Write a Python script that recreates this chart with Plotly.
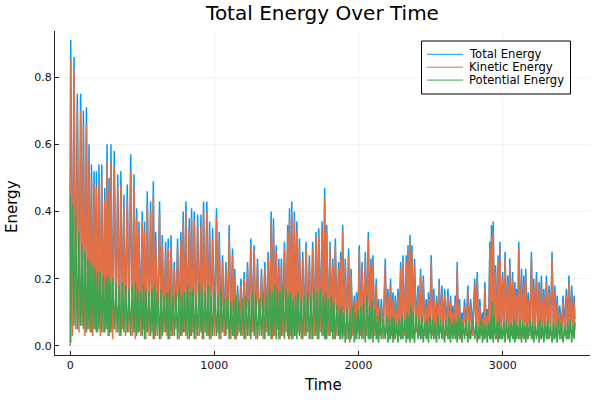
import plotly.graph_objects as go

# Times of the oscillation peaks (kinetic maxima)
peak_t = [
    4, 27, 50, 73, 92, 113, 131, 148, 166, 182,
    200, 219, 240, 256, 270, 283, 306, 330, 352, 373,
    396, 420, 443, 461, 477, 500, 516, 535, 558, 577,
    593, 620, 639, 662, 680, 700, 722, 745, 768, 784,
    803, 826, 842, 861, 884, 907, 925, 948, 967, 988,
    1015, 1034, 1057, 1080, 1103, 1126, 1142, 1161, 1184, 1207,
    1230, 1253, 1276, 1299, 1327, 1350, 1373, 1394, 1410, 1429,
    1447, 1465, 1486, 1509, 1521, 1537, 1555, 1572, 1590, 1613,
    1636, 1659, 1682, 1705, 1724, 1747, 1765, 1779, 1802, 1821,
    1839, 1862, 1876, 1890, 1908, 1931, 1948, 1971, 1987, 2005,
    2024, 2047, 2068, 2086, 2100, 2123, 2139, 2158, 2185, 2204,
    2222, 2239, 2255, 2274, 2292, 2308, 2331, 2343, 2357, 2370,
    2388, 2412, 2430, 2449, 2469, 2485, 2504, 2522, 2541, 2559,
    2578, 2597, 2620, 2638, 2654, 2670, 2684, 2700, 2717, 2735,
    2758, 2777, 2806, 2823, 2841, 2860, 2876, 2892, 2911, 2922,
    2934, 2950, 2968, 2980, 2999, 3016, 3035, 3049, 3068, 3084,
    3096, 3111, 3130, 3146, 3160, 3176, 3199, 3215, 3234, 3252,
    3268, 3285, 3303, 3321, 3342, 3361, 3377, 3395, 3418, 3441,
    3459, 3478, 3495,
]

total_hi = [
    .91, .86, .75, .75, .70, .71, .60, .54, .52, .52,
    .54, .54, .47, .60, .50, .60, .58, .51, .52, .45,
    .48, .57, .51, .41, .37, .40, .37, .46, .43, .49,
    .34, .43, .33, .31, .32, .33, .25, .32, .34, .40,
    .43, .38, .41, .40, .39, .39, .43, .43, .37, .35,
    .41, .34, .27, .25, .36, .29, .23, .18, .20, .22,
    .25, .32, .30, .26, .23, .25, .28, .40, .38, .30,
    .26, .26, .31, .36, .41, .43, .40, .37, .32, .28,
    .31, .27, .31, .34, .35, .37, .47, .36, .31, .26,
    .32, .25, .28, .36, .26, .29, .23, .15, .16, .30,
    .25, .28, .34, .26, .27, .20, .14, .14, .26, .17,
    .20, .16, .15, .17, .25, .27, .27, .30, .33, .30,
    .26, .18, .23, .21, .14, .16, .27, .17, .15, .20,
    .18, .17, .17, .15, .12, .15, .25, .14, .10, .14,
    .18, .14, .20, .22, .14, .10, .19, .11, .31, .36,
    .37, .24, .27, .31, .22, .28, .21, .26, .22, .19,
    .17, .31, .23, .21, .23, .16, .28, .20, .22, .19,
    .21, .17, .21, .18, .28, .18, .15, .12, .15, .17,
    .21, .18, .15,
]

kinetic_hi = [
    .85, .82, .70, .70, .65, .66, .55, .50, .48, .47,
    .49, .50, .43, .55, .46, .55, .53, .47, .48, .41,
    .44, .52, .47, .38, .34, .37, .34, .42, .40, .45,
    .31, .40, .30, .28, .29, .30, .23, .29, .31, .37,
    .40, .35, .38, .37, .36, .36, .40, .40, .34, .32,
    .38, .31, .25, .23, .33, .27, .21, .16, .18, .20,
    .23, .30, .28, .24, .21, .23, .26, .37, .35, .28,
    .24, .24, .29, .34, .38, .40, .37, .34, .30, .26,
    .29, .25, .29, .32, .33, .35, .44, .34, .29, .24,
    .30, .23, .26, .34, .24, .27, .21, .13, .14, .28,
    .23, .26, .32, .24, .25, .18, .12, .12, .24, .15,
    .18, .14, .13, .15, .23, .25, .25, .28, .31, .28,
    .24, .16, .21, .19, .12, .14, .25, .15, .13, .18,
    .16, .15, .15, .13, .10, .13, .23, .12, .08, .12,
    .16, .12, .18, .20, .12, .08, .17, .09, .29, .33,
    .34, .22, .25, .29, .20, .26, .19, .24, .20, .17,
    .15, .29, .21, .19, .21, .14, .26, .18, .20, .17,
    .19, .15, .19, .16, .26, .16, .13, .10, .13, .15,
    .19, .16, .13,
]

potential_lo = [
    .01, .06, .05, .06, .05, .04, .05, .04, .05, .04,
    .05, .04, .04, .05, .03, .04, .05, .04, .03, .04,
    .04, .03, .04, .03, .04, .03, .02, .04, .03, .02,
    .03, .02, .03, .04, .02, .03, .03, .02, .03, .04,
    .03, .02, .03, .02, .03, .04, .02, .03, .02, .03,
    .03, .02, .04, .03, .02, .03, .02, .03, .03, .02,
    .03, .02, .03, .02, .03, .02, .03, .02, .03, .02,
    .02, .03, .02, .03, .02, .02, .03, .02, .03, .02,
    .03, .02, .02, .03, .02, .03, .02, .02, .03, .02,
    .02, .03, .02, .02, .01, .02, .02, .01, .02, .02,
    .02, .01, .02, .02, .01, .02, .01, .02, .02, .01,
    .02, .01, .02, .01, .02, .02, .01, .02, .01, .02,
    .01, .02, .02, .01, .02, .01, .02, .02, .01, .02,
    .02, .01, .02, .01, .02, .02, .01, .02, .01, .02,
    .01, .02, .02, .01, .02, .01, .02, .01, .02, .02,
    .01, .02, .01, .02, .02, .01, .02, .01, .02, .01,
    .02, .02, .01, .02, .01, .02, .02, .01, .02, .01,
    .02, .01, .02, .02, .01, .02, .01, .02, .01, .02,
    .02, .01, .02,
]

# Values at the troughs (start, between peaks, end)
total_lo = [
    .45,
    .06, .08, .07, .09, .06, .08, .07, .06, .08, .07,
    .06, .07, .08, .06, .07, .05, .07, .06, .08, .06,
    .07, .06, .05, .07, .06, .08, .05, .06, .07, .05,
    .06, .05, .07, .06, .05, .06, .08, .05, .06, .07,
    .05, .06, .07, .05, .06, .05, .07, .06, .05, .06,
    .07, .05, .06, .08, .05, .06, .05, .07, .06, .05,
    .06, .07, .05, .06, .05, .07, .06, .05, .06, .08,
    .05, .06, .07, .05, .06, .05, .06, .07, .05, .06,
    .07, .05, .06, .05, .07, .06, .05, .06, .07, .05,
    .06, .05, .07, .06, .05, .04, .06, .05, .07, .06,
    .05, .06, .05, .07, .06, .05, .06, .05, .07, .05,
    .06, .05, .07, .06, .05, .06, .07, .05, .06, .05,
    .07, .06, .05, .06, .05, .07, .06, .05, .06, .07,
    .05, .06, .05, .07, .06, .05, .06, .05, .07, .06,
    .05, .06, .07, .05, .06, .05, .07, .06, .05, .06,
    .07, .05, .06, .05, .06, .07, .05, .06, .05, .07,
    .06, .05, .06, .07, .05, .06, .05, .07, .06, .05,
    .06, .07, .05, .06, .05, .06, .07, .05, .06, .05,
    .07, .06, .08,
]

kinetic_lo = [
    .00,
    .03, .05, .04, .06, .03, .05, .04, .03, .05, .04,
    .03, .04, .05, .03, .04, .02, .04, .03, .05, .03,
    .04, .03, .02, .04, .03, .05, .02, .03, .04, .02,
    .03, .02, .04, .03, .02, .03, .05, .02, .03, .04,
    .02, .03, .04, .02, .03, .02, .04, .03, .02, .03,
    .04, .02, .03, .05, .02, .03, .02, .04, .03, .02,
    .03, .04, .02, .03, .02, .04, .03, .02, .03, .05,
    .02, .03, .04, .02, .03, .02, .03, .04, .02, .03,
    .04, .02, .03, .02, .04, .03, .02, .03, .04, .02,
    .03, .02, .04, .03, .02, .01, .03, .02, .04, .03,
    .02, .03, .02, .04, .03, .02, .03, .02, .04, .02,
    .03, .02, .04, .03, .02, .03, .04, .02, .03, .02,
    .04, .03, .02, .03, .02, .04, .03, .02, .03, .04,
    .02, .03, .02, .04, .03, .02, .03, .02, .04, .03,
    .02, .03, .04, .02, .03, .02, .04, .03, .02, .03,
    .04, .02, .03, .02, .03, .04, .02, .03, .02, .04,
    .03, .02, .03, .04, .02, .03, .02, .04, .03, .02,
    .03, .04, .02, .03, .02, .03, .04, .02, .03, .02,
    .04, .03, .05,
]

potential_hi = [
    .45,
    .42, .39, .34, .30, .28, .26, .25, .24, .23, .22,
    .22, .21, .20, .21, .19, .20, .19, .18, .19, .18,
    .17, .18, .19, .17, .16, .18, .17, .16, .17, .18,
    .16, .17, .15, .16, .17, .15, .16, .17, .15, .16,
    .18, .16, .17, .15, .19, .17, .16, .18, .15, .16,
    .15, .17, .14, .15, .13, .14, .15, .13, .14, .15,
    .14, .16, .15, .14, .16, .15, .17, .16, .18, .17,
    .16, .18, .17, .15, .16, .14, .15, .16, .14, .15,
    .16, .15, .17, .16, .17, .15, .16, .14, .15, .13,
    .12, .11, .12, .10, .11, .10, .12, .10, .11, .12,
    .13, .15, .12, .14, .11, .09, .10, .08, .09, .08,
    .09, .08, .07, .08, .09, .08, .10, .09, .12, .10,
    .09, .08, .09, .07, .08, .09, .08, .07, .09, .08,
    .07, .08, .09, .07, .08, .07, .09, .08, .07, .08,
    .07, .08, .07, .06, .08, .07, .06, .07, .08, .13,
    .09, .07, .08, .06, .07, .08, .06, .07, .08, .07,
    .06, .08, .07, .06, .07, .08, .07, .06, .07, .08,
    .06, .07, .08, .06, .07, .06, .08, .07, .06, .07,
    .08, .06, .07,
]

SERIES_NAMES = ["Total Energy", "Kinetic Energy", "Potential Energy"]
SERIES_COLORS = ["#009AFA", "#E36F47", "#3EA44E"]
X_TICKS = [0, 1000, 2000, 3000]
Y_TICKS = [0.0, 0.2, 0.4, 0.6, 0.8]
T_END = 3500

# trough times: start, midpoints between peaks, end
trough_t = [0] + [(peak_t[i] + peak_t[i + 1]) / 2 for i in range(len(peak_t) - 1)] + [T_END]


def interleave(lo, hi):
    xs, ys = [], []
    for i in range(len(hi)):
        xs += [trough_t[i], peak_t[i]]
        ys += [lo[i], hi[i]]
    xs.append(trough_t[len(hi)])
    ys.append(lo[len(hi)])
    return xs, ys


series = [
    interleave(total_lo, total_hi),
    interleave(kinetic_lo, kinetic_hi),
    interleave(potential_hi, potential_lo),
]

FONT = "DejaVu Sans"
LW = 1.5

# plot area in pixels
W, H = 600, 400
L, R, T, B = 55, 590, 31, 355


def px(x):
    return (x - L) / (R - L)


def py(y):
    return (B - y) / (B - T)


fig = go.Figure()
for (xs, ys), name, color in zip(series, SERIES_NAMES, SERIES_COLORS):
    fig.add_trace(go.Scatter(x=xs, y=ys, mode="lines", name=name,
                             line=dict(color=color, width=LW), showlegend=False,
                             hoverinfo="skip"))

axis_common = dict(
    showgrid=True, gridcolor="rgba(0,0,0,0.09)", gridwidth=0.5,
    zeroline=False, showline=True, linecolor="#222", linewidth=1,
    ticks="inside", ticklen=4, tickcolor="#222",
    tickfont=dict(family=FONT, size=11, color="#111"),
    mirror=False, automargin=False,
)

shapes = []
annotations = []

# legend (drawn manually)
shapes.append(dict(type="rect", xref="paper", yref="paper",
                   x0=px(421.5), x1=px(570.5), y0=py(94), y1=py(41),
                   line=dict(color="black", width=1), fillcolor="white", layer="above"))
for i, (name, color) in enumerate(zip(SERIES_NAMES, SERIES_COLORS)):
    yy = 54.3 + i * 12.9
    shapes.append(dict(type="line", xref="paper", yref="paper",
                       x0=px(427), x1=px(463), y0=py(yy), y1=py(yy),
                       line=dict(color=color, width=1), layer="above"))
    annotations.append(dict(text=name, xref="paper", yref="paper",
                            x=px(467), y=py(yy), xanchor="left", yanchor="middle",
                            showarrow=False,
                            font=dict(family=FONT, size=11.6, color="black")))

# axis titles
annotations.append(dict(text="Time", xref="paper", yref="paper",
                        x=px(322.5), y=py(385), xanchor="center", yanchor="middle",
                        showarrow=False, font=dict(family=FONT, size=15, color="black")))
annotations.append(dict(text="Energy", xref="paper", yref="paper",
                        x=px(12), y=py(207), xanchor="center", yanchor="middle",
                        textangle=-90, showarrow=False,
                        font=dict(family=FONT, size=15, color="black")))

fig.update_layout(
    width=W, height=H,
    paper_bgcolor="white", plot_bgcolor="white",
    margin=dict(l=L, r=W - R, t=T, b=H - B),
    title=dict(text="Total Energy Over Time", x=px(322.5), xref="paper", xanchor="center",
               y=1 - 12.5 / H, yref="container", yanchor="middle",
               font=dict(family=FONT, size=20, color="black")),
    xaxis=dict(axis_common, range=[-105, 3605], tickvals=X_TICKS),
    yaxis=dict(axis_common, range=[-0.0268, 0.937], tickvals=Y_TICKS, tickformat=".1f"),
    shapes=shapes,
    annotations=annotations,
    showlegend=False,
    hovermode=False,
)

fig.write_html(
    "out.html",
    config={"displayModeBar": False, "staticPlot": True},
    post_script="document.body.style.margin='0px';document.body.style.overflow='hidden';",
)
